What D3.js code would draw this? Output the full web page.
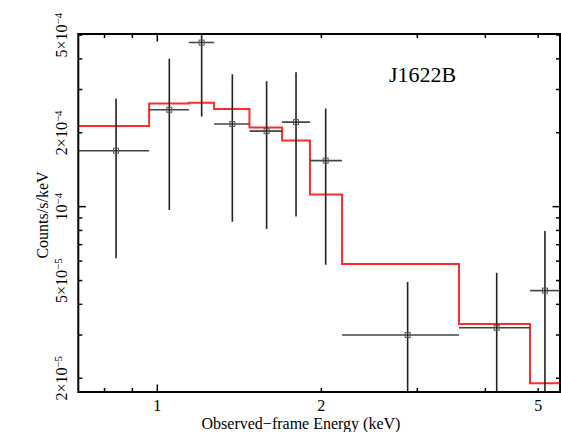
<!DOCTYPE html>
<html>
<head>
<meta charset="utf-8">
<script src="https://cdn.jsdelivr.net/npm/d3@7"></script>
<style>
  body { margin: 0; background: #fff; }
  text { font-family: "Liberation Serif", "Times New Roman", serif; fill: #000; }
  .axisline { stroke: #000; stroke-width: 2; fill: none; }
  .tick line { stroke: #000; stroke-width: 1.5; }
  .err { stroke: #222; stroke-width: 1.6; }
  .model { stroke: #ff2a2a; stroke-width: 2; fill: none; }
</style>
</head>
<body>
<div id="chart"></div>
<script>
(function(){

// spectrum bins
var eLo   = [0.70, 0.966, 1.143, 1.271, 1.476, 1.694, 1.906, 2.183, 3.578, 4.83];
var eHi   = [0.966, 1.143, 1.271, 1.476, 1.694, 1.906, 2.183, 3.578, 4.83, 5.50];
var eMid  = [0.840, 1.052, 1.206, 1.373, 1.587, 1.797, 2.037, 2.880, 4.196, 5.145];
var rate  = [1.69e-4, 2.48e-4, 4.66e-4, 2.17e-4, 2.03e-4, 2.21e-4, 1.54e-4, 3.00e-5, 3.21e-5, 4.55e-5];
var errHi = [2.75e-4, 4.00e-4, 5.8e-4, 3.46e-4, 3.24e-4, 3.53e-4, 2.51e-4, 4.94e-5, 5.38e-5, 7.96e-5];
var errLo = [6.16e-5, 9.69e-5, 2.33e-4, 8.69e-5, 8.11e-5, 9.11e-5, 5.80e-5, 1.0e-5, 1.0e-5, 1.0e-5];
var model = [2.13e-4, 2.63e-4, 2.65e-4, 2.50e-4, 2.10e-4, 1.86e-4, 1.12e-4, 5.84e-5, 3.33e-5, 1.91e-5];

var xTickLabels = [1, 2, 5];
var yTickLabels = [
  {v: 5e-4, m: "5\u00d710", e: "\u22124"},
  {v: 2e-4, m: "2\u00d710", e: "\u22124"},
  {v: 1e-4, m: "10", e: "\u22124"},
  {v: 5e-5, m: "5\u00d710", e: "\u22125"},
  {v: 2e-5, m: "2\u00d710", e: "\u22125"}
];

var margin = {top: 34, right: 1, bottom: 40, left: 78.3},
    width = 561 - margin.left - margin.right,
    height = 432 - margin.top - margin.bottom;

var x = d3.scaleLog().domain([0.7161, 5.483]).range([0, width]);
var y = d3.scaleLog().domain([1.758e-5, 5.05e-4]).range([height, 0]);

var svg = d3.select("#chart").append("svg")
    .attr("width", 561)
    .attr("height", 432);

var g = svg.append("g")
    .attr("transform", "translate(" + margin.left + "," + margin.top + ")");

g.append("clipPath").attr("id", "clip")
  .append("rect").attr("width", width).attr("height", height);

var plot = g.append("g").attr("clip-path", "url(#clip)");

// model step line
var stepData = eLo.map(function(d, i) { return [d, model[i]]; });
stepData.push([eHi[eHi.length - 1], model[model.length - 1]]);

var line = d3.line()
    .x(function(d) { return x(d[0]); })
    .y(function(d) { return y(d[1]); })
    .curve(d3.curveStepAfter);

plot.append("path")
    .attr("class", "model")
    .attr("d", line(stepData));

// data with errors
var pts = rate.map(function(r, i) {
  return {lo: eLo[i], hi: eHi[i], mid: eMid[i], r: r, eh: errHi[i], el: errLo[i]};
});

var pg = plot.selectAll(".pt").data(pts).enter().append("g").attr("class", "pt");

pg.append("line").attr("class", "err")
    .attr("x1", function(d) { return x(d.lo); })
    .attr("x2", function(d) { return x(d.hi); })
    .attr("y1", function(d) { return y(d.r); })
    .attr("y2", function(d) { return y(d.r); })
    .style("stroke", "#444");

pg.append("line").attr("class", "err")
    .attr("x1", function(d) { return x(d.mid); })
    .attr("x2", function(d) { return x(d.mid); })
    .attr("y1", function(d) { return y(d.eh); })
    .attr("y2", function(d) { return y(d.el); });

pg.append("rect")
    .attr("x", function(d) { return x(d.mid) - 2.5; })
    .attr("y", function(d) { return y(d.r) - 2.5; })
    .attr("width", 5).attr("height", 5)
    .style("fill", "none").style("stroke", "#555").style("stroke-width", 1);

// ticks: decades major, the rest minor, on all four sides
function logTicks(lo, hi) {
  var out = [];
  for (var p = Math.floor(Math.log10(lo)); p <= Math.ceil(Math.log10(hi)); p++) {
    for (var k = 1; k < 10; k++) {
      var v = k * Math.pow(10, p);
      if (v >= lo && v <= hi) out.push({v: v, major: k === 1});
    }
  }
  return out;
}

var xt = logTicks(x.domain()[0], x.domain()[1]);
var yt = logTicks(y.domain()[0], y.domain()[1]);

var ticks = g.append("g").attr("class", "tick");
xt.forEach(function(t) {
  var len = t.major ? 7.5 : 4;
  ticks.append("line").attr("x1", x(t.v)).attr("x2", x(t.v)).attr("y1", height).attr("y2", height - len);
  ticks.append("line").attr("x1", x(t.v)).attr("x2", x(t.v)).attr("y1", 0).attr("y2", len);
});
yt.forEach(function(t) {
  var len = t.major ? 7.5 : 4;
  ticks.append("line").attr("x1", 0).attr("x2", len).attr("y1", y(t.v)).attr("y2", y(t.v));
  ticks.append("line").attr("x1", width).attr("x2", width - len).attr("y1", y(t.v)).attr("y2", y(t.v));
});

g.append("rect").attr("class", "axisline")
    .attr("width", width).attr("height", height);

// x tick labels
g.selectAll(".xl").data(xTickLabels).enter().append("text")
    .attr("x", function(d) { return x(d); })
    .attr("y", height + 18.5)
    .attr("text-anchor", "middle")
    .style("font-size", "16px")
    .text(function(d) { return d; });

// y tick labels, rotated
var yl = g.selectAll(".yl").data(yTickLabels).enter().append("text")
    .attr("transform", function(d) { return "translate(-11," + y(d.v) + ") rotate(-90)"; })
    .attr("text-anchor", "middle")
    .style("font-size", "16px");
yl.append("tspan").text(function(d) { return d.m; });
yl.append("tspan")
    .attr("dy", "-0.45em")
    .style("font-size", "11px")
    .text(function(d) { return d.e; });

// axis titles
g.append("text")
    .attr("x", 301 - margin.left)
    .attr("y", height + 36.5)
    .attr("text-anchor", "middle")
    .style("font-size", "16px")
    .text("Observed\u2212frame Energy (keV)");

g.append("text")
    .attr("transform", "translate(" + (48 - margin.left) + "," + (height / 2 + 2) + ") rotate(-90)")
    .attr("text-anchor", "middle")
    .style("font-size", "16px")
    .text("Counts/s/keV");

g.append("text")
    .attr("x", 389 - margin.left)
    .attr("y", 81.7 - margin.top)
    .style("font-size", "22px")
    .text("J1622B");

})();
</script>
</body>
</html>
